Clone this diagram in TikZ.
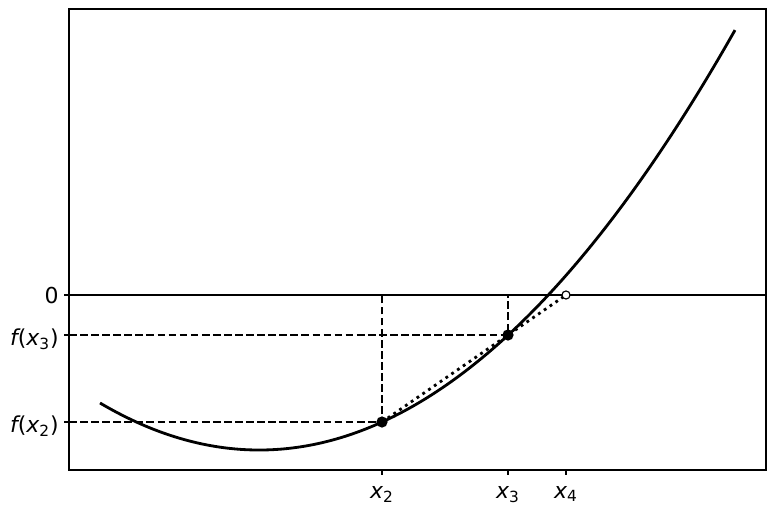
\documentclass[tikz,border=0pt]{standalone}
\usepackage{fontspec}
\setmainfont{DejaVu Sans}
\usetikzlibrary{positioning}

\newcommand{\fx}[1]{{\itshape f}({\itshape x}\textsubscript{#1})}
\newcommand{\xx}[1]{{\itshape x}\textsubscript{#1}}

\begin{document}
\begin{tikzpicture}[x=0.02cm, y=-0.02cm, font=\fontsize{12.5}{15}\selectfont]
    % Tyylit
    \tikzstyle{kayra} = [line width=1.6pt, line join=round]
    \tikzstyle{nollaviiva} = [line width=1.2pt]
    \tikzstyle{apuviiva} = [line width=1.2pt, dash pattern=on 4.4pt off 1.9pt]
    \tikzstyle{sekantti} = [line width=1.6pt, dash pattern=on 1.6pt off 2.4pt]
    \tikzstyle{piste} = [circle, fill=black, inner sep=0pt, minimum size=6.4pt]
    \tikzstyle{avoin} = [circle, draw=black, fill=white, line width=0.65pt, inner sep=0pt, minimum size=4.6pt]
    \tikzstyle{kehys} = [line width=0.65pt]
    \tikzstyle{xnimi} = [anchor=base, inner sep=0pt]
    \tikzstyle{ynimi} = [anchor=base east, inner sep=0pt]

    \useasboundingbox (0,0) rectangle (776,514);

    % Pisteet
    \coordinate (p2) at (382,422);
    \coordinate (p3) at (508,335);
    \coordinate (p4) at (566,295);
    \coordinate (y0) at (69,295);
    \coordinate (y3) at (69,335);
    \coordinate (y2) at (69,422);
    \coordinate (r0) at (766,295);
    \coordinate (t2) at (382,295);
    \coordinate (t3) at (508,295);
    \coordinate (b2) at (382,470);
    \coordinate (b3) at (508,470);
    \coordinate (b4) at (566,470);

    % Kayra
    \draw [kayra] plot[domain=100:735, samples=120, smooth] (\x, {450 - 18.549*((\x-259.2)/100)^2});

    % Viivat
    \draw [nollaviiva] (y0) -- (r0);
    \draw [apuviiva] (y2) -- (p2) -- (t2);
    \draw [apuviiva] (y3) -- (p3) -- (t3);
    \draw [sekantti] (p2) -- (p3) -- (p4);

    % Solmut
    \node (m2) [piste] at (p2) {};
    \node (m3) [piste] at (p3) {};
    \node (m4) [avoin] at (p4) {};

    % Kehys ja tikit
    \draw [kehys] (69,9) rectangle (766,470);
    \foreach \b in {b2, b3, b4} \draw [kehys] (\b) -- ++(0,5);
    \foreach \y in {y0, y3, y2} \draw [kehys] (\y) -- ++(-5,0);

    % Nimet
    \node (lx2) [xnimi] at (382,498) {\xx{2}};
    \node (lx3) [xnimi] at (508,498) {\xx{3}};
    \node (lx4) [xnimi] at (566,498) {\xx{4}};
    \node (l0) [ynimi] at (59,303) {0};
    \node (lf3) [ynimi] at (59,345) {\fx{3}};
    \node (lf2) [ynimi] at (59,432) {\fx{2}};
\end{tikzpicture}
\end{document}
